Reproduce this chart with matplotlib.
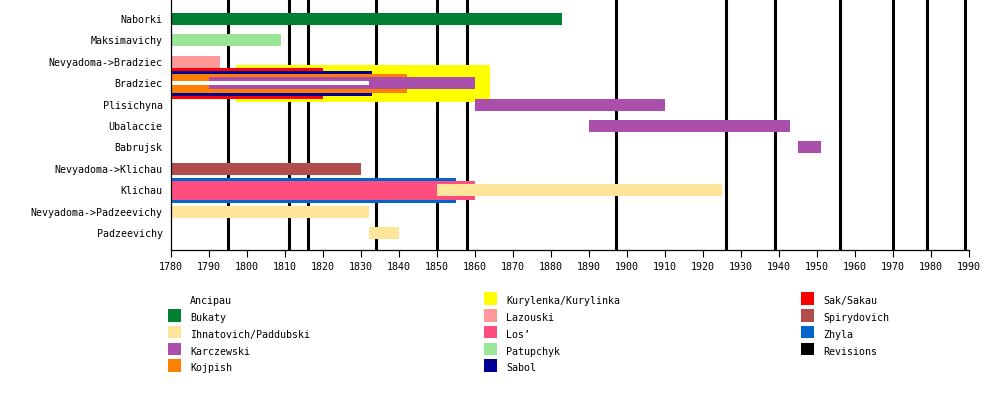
import matplotlib
matplotlib.use("Agg")
import matplotlib.pyplot as plt
from matplotlib.patches import Rectangle

# ---- data ----
places = ["Naborki", "Maksimavichy", "Nevyadoma->Bradziec", "Bradziec", "Plisichyna",
          "Ubalaccie", "Babrujsk", "Nevyadoma->Klichau", "Klichau",
          "Nevyadoma->Padzeevichy", "Padzeevichy"]

bar_place = ["Naborki", "Maksimavichy", "Nevyadoma->Bradziec",
             "Bradziec", "Bradziec", "Bradziec", "Bradziec", "Bradziec", "Bradziec",
             "Plisichyna", "Ubalaccie", "Babrujsk", "Nevyadoma->Klichau",
             "Klichau", "Klichau", "Klichau",
             "Nevyadoma->Padzeevichy", "Padzeevichy"]
bar_start = [1780, 1780, 1780,
             1797, 1780, 1780, 1780, 1790, 1780,
             1860, 1890, 1945, 1780,
             1780, 1780, 1850,
             1780, 1832]
bar_end = [1883, 1809, 1793,
           1864, 1820, 1833, 1842, 1860, 1832,
           1910, 1943, 1951, 1830,
           1855, 1860, 1925,
           1832, 1840]
bar_owner = ["Bukaty", "Patupchyk", "Lazouski",
             "Kurylenka/Kurylinka", "Sak/Sakau", "Sabol", "Kojpish", "Karczewski", "Ancipau",
             "Karczewski", "Karczewski", "Karczewski", "Spirydovich",
             "Zhyla", "Los\u2019", "Ihnatovich/Paddubski",
             "Ihnatovich/Paddubski", "Ihnatovich/Paddubski"]

revision_years = [1795, 1811, 1816, 1834, 1850, 1858, 1897, 1926, 1939, 1956, 1970, 1979, 1989]

x_ticks = list(range(1780, 1991, 10))

legend_names = ["Ancipau", "Bukaty", "Ihnatovich/Paddubski", "Karczewski", "Kojpish",
                "Kurylenka/Kurylinka", "Lazouski", "Los\u2019", "Patupchyk", "Sabol",
                "Sak/Sakau", "Spirydovich", "Zhyla", "Revisions"]

# ---- styles ----
owner_colors = {
    "Ancipau": "#ffffff",
    "Bukaty": "#008033",
    "Ihnatovich/Paddubski": "#ffe599",
    "Karczewski": "#aa4fab",
    "Kojpish": "#ff8000",
    "Kurylenka/Kurylinka": "#ffff00",
    "Lazouski": "#ff9999",
    "Los\u2019": "#ff4d80",
    "Patupchyk": "#99e699",
    "Sabol": "#000099",
    "Sak/Sakau": "#ff0000",
    "Spirydovich": "#b24d4d",
    "Zhyla": "#0066cc",
    "Revisions": "#000000",
}
# bar thickness (in row units), per bar
bar_thick = [0.56, 0.56, 0.56,
             1.71, 1.45, 1.18, 0.90, 0.56, 0.20,
             0.56, 0.56, 0.56, 0.56,
             1.15, 0.89, 0.56,
             0.56, 0.56]

FONT = "DejaVu Sans Mono"
FS = 7.2
W, H = 1000, 400

fig = plt.figure(figsize=(W / 100, H / 100), dpi=100)
fig.patch.set_facecolor("white")
ax = fig.add_axes([171 / W, 1 - 250 / H, 798 / W, 250 / H])

ypos = {p: i for i, p in enumerate(places)}

for yr in revision_years:
    ax.axvline(yr, color="black", linewidth=2.2, zorder=1)

for p, s, e, o, t in zip(bar_place, bar_start, bar_end, bar_owner, bar_thick):
    ax.barh(ypos[p], e - s, left=s, height=t, color=owner_colors[o],
            linewidth=0, zorder=2)

ax.set_xlim(1780, 1990)
ax.set_ylim(10.79, -0.888)

ax.set_yticks(range(len(places)))
ax.set_yticklabels(places, fontfamily=FONT, fontsize=FS)
ax.tick_params(axis="y", length=0, pad=6)

ax.set_xticks(x_ticks)
ax.set_xticklabels([str(v) for v in x_ticks], fontfamily=FONT, fontsize=FS)
ax.tick_params(axis="x", direction="out", length=5, width=0.8, pad=4, color="black")

for side in ["top", "right"]:
    ax.spines[side].set_visible(False)
for side in ["left", "bottom"]:
    ax.spines[side].set_linewidth(0.9)
    ax.spines[side].set_color("black")

# ---- legend (manual, 3 columns of 5) ----
col_x = [168, 484, 801]
text_dx = 22
row_base = 304.3
row_step = 16.75
for i, name in enumerate(legend_names):
    c, r = divmod(i, 5)
    x0 = col_x[c]
    base = row_base + r * row_step
    top = base - 12
    rect = Rectangle((x0 / W, 1 - (top + 12.5) / H), 12.5 / W, 12.5 / H,
                     transform=fig.transFigure, facecolor=owner_colors[name],
                     edgecolor="none")
    fig.add_artist(rect)
    fig.text((x0 + text_dx) / W, 1 - base / H, name, fontfamily=FONT, fontsize=FS,
             ha="left", va="baseline", color="black")

fig.savefig("out.png", dpi=100, facecolor="white")
